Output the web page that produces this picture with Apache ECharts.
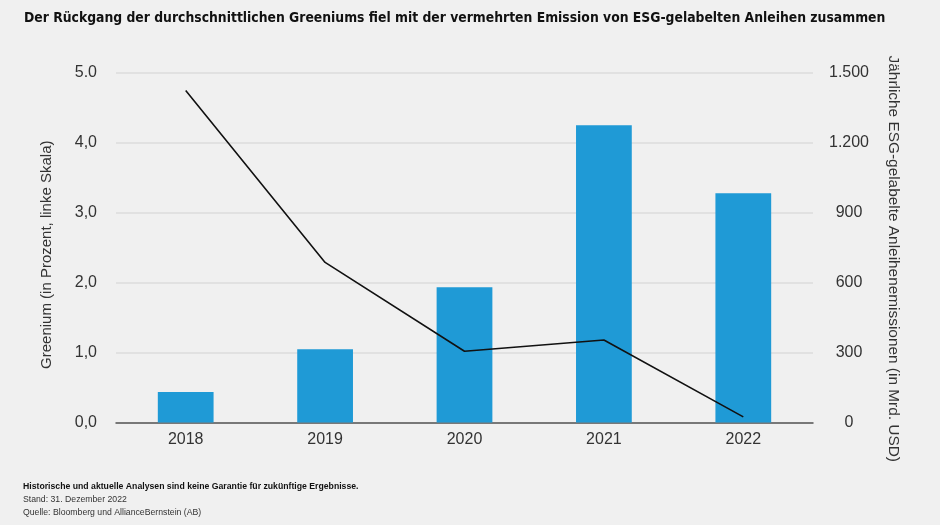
<!DOCTYPE html>
<html>
<head>
<meta charset="utf-8">
<script src="https://cdn.jsdelivr.net/npm/echarts@6/dist/echarts.min.js"></script>
<style>
html,body{margin:0;padding:0;background:#f0f0f0;}
#c{width:940px;height:525px;}
</style>
</head>
<body>
<div id="c"></div>
<script>
var years = ['2018','2019','2020','2021','2022'];
var issuance = [131, 314, 581, 1276, 984];      // Mrd. USD, right axis (bars)
var greenium = [4.75, 2.29, 1.02, 1.18, 0.08];  // %, left axis (line)
var leftTicks = ['0,0','1,0','2,0','3,0','4,0','5.0'];
var rightTicks = ['0','300','600','900','1.200','1.500'];

var chart = echarts.init(document.getElementById('c'));
var txt = '#333333';
var font = 'Liberation Sans, Arial, sans-serif';
chart.setOption({
  backgroundColor: '#f0f0f0',
  animation: false,
  title: [
    {text: 'Der Rückgang der durchschnittlichen Greeniums fiel mit der vermehrten Emission von ESG-gelabelten Anleihen zusammen',
     left: 24, top: 11, padding: 0,
     textStyle: {fontFamily: 'DejaVu Sans Condensed, DejaVu Sans', fontWeight: 'bold', fontSize: 13.8, color: '#111'}},
    {text: 'Historische und aktuelle Analysen sind keine Garantie für zukünftige Ergebnisse.',
     left: 23, top: 482, padding: 0,
     textStyle: {fontFamily: font, fontWeight: 'bold', fontSize: 8.7, color: '#111'}},
    {text: 'Stand: 31. Dezember 2022',
     left: 23, top: 495, padding: 0,
     textStyle: {fontFamily: font, fontWeight: 'normal', fontSize: 8.7, color: '#333'}},
    {text: 'Quelle: Bloomberg und AllianceBernstein (AB)',
     left: 23, top: 508, padding: 0,
     textStyle: {fontFamily: font, fontWeight: 'normal', fontSize: 8.7, color: '#333'}}
  ],
  grid: {left: 116, right: 127, top: 73, bottom: 102.5},
  xAxis: {
    type: 'category', data: years,
    axisLine: {lineStyle: {color: '#555', width: 1.5}},
    axisTick: {show: false},
    axisLabel: {color: txt, fontSize: 16, fontFamily: font, margin: 9}
  },
  yAxis: [
    {type: 'value', min: 0, max: 5, interval: 1, position: 'left',
     name: 'Greenium (in Prozent, linke Skala)', nameLocation: 'middle', nameGap: 62,
     nameTextStyle: {color: txt, fontSize: 15, fontFamily: font, padding: [0, 14, 0, 0]},
     axisLine: {show: false}, axisTick: {show: false},
     axisLabel: {color: txt, fontSize: 16, fontFamily: font, margin: 19,
       formatter: function(v){ return leftTicks[Math.round(v)]; }},
     splitLine: {lineStyle: {color: '#dcdcdc', width: 1.5}}},
    {type: 'value', min: 0, max: 1500, interval: 300, position: 'right',
     name: 'Jährliche ESG-gelabelte Anleihenemissionen (in Mrd. USD)', nameLocation: 'middle', nameGap: 73,
     nameRotate: -90,
     nameTextStyle: {color: txt, fontSize: 15.4, fontFamily: font, padding: [0, 0, 0, 22]},
     axisLine: {show: false}, axisTick: {show: false},
     axisLabel: {color: txt, fontSize: 16, fontFamily: font, margin: 36, align: 'center',
       formatter: function(v){ return rightTicks[Math.round(v/300)]; }},
     splitLine: {show: false}}
  ],
  series: [
    {type: 'bar', yAxisIndex: 1, data: issuance, barWidth: '40%',
     itemStyle: {color: '#1f9ad6'}, z: 2},
    {type: 'line', yAxisIndex: 0, data: greenium, symbol: 'none',
     lineStyle: {color: '#111', width: 1.6}, z: 3}
  ]
});
</script>
</body>
</html>
